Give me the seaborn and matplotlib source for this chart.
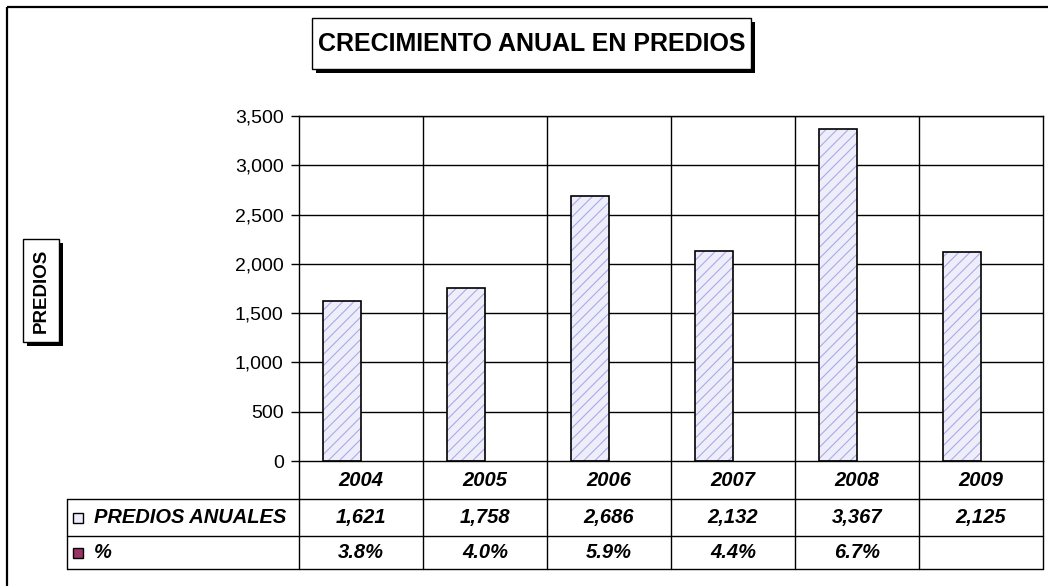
import matplotlib
matplotlib.use("Agg")
import matplotlib.pyplot as plt
import matplotlib.transforms as mtransforms
from matplotlib.patches import Rectangle
import numpy as np
import pandas as pd
import seaborn as sns

# ---- data ----
years = ["2004", "2005", "2006", "2007", "2008", "2009"]
predios = [1621, 1758, 2686, 2132, 3367, 2125]
pct = [0.038, 0.040, 0.059, 0.044, 0.067, np.nan]
series_names = ["PREDIOS ANUALES", "%"]
predios_labels = ["1,621", "1,758", "2,686", "2,132", "3,367", "2,125"]
pct_labels = ["3.8%", "4.0%", "5.9%", "4.4%", "6.7%", ""]
yticks = [0, 500, 1000, 1500, 2000, 2500, 3000, 3500]
title = "CRECIMIENTO ANUAL EN PREDIOS"
ylabel = "PREDIOS"

sns.set_theme(style="white")
plt.rcParams["font.family"] = ["Liberation Sans", "DejaVu Sans"]
plt.rcParams["text.color"] = "black"
plt.rcParams["axes.labelcolor"] = "black"
plt.rcParams["ytick.color"] = "black"
plt.rcParams["xtick.color"] = "black"
plt.rcParams["hatch.linewidth"] = 0.8

df = pd.DataFrame({
    "year": years * 2,
    "serie": [series_names[0]] * len(years) + [series_names[1]] * len(years),
    "valor": predios + pct,
})

W, H = 1048, 586
fig = plt.figure(figsize=(W / 100, H / 100), dpi=100)
fig.patch.set_facecolor("white")

# background overlay in pixel coords
bg = fig.add_axes([0, 0, 1, 1], zorder=0)
bg.set_xlim(0, W)
bg.set_ylim(H, 0)
bg.axis("off")
# outer border (only top/left visible)
bg.add_patch(Rectangle((7, 7), W + 20, H + 20, fill=False, ec="black", lw=1.6))

# title box with shadow
bg.add_patch(Rectangle((316, 22), 439, 51, fc="black", ec="black", lw=0))
bg.add_patch(Rectangle((312, 18), 439, 51, fc="white", ec="black", lw=1))
bg.text(531.5, 44, title, ha="center", va="center", fontsize=18, fontweight="bold")

# y-label box with shadow
bg.add_patch(Rectangle((27, 243), 36, 103, fc="black", ec="black", lw=0))
bg.add_patch(Rectangle((23, 239), 36, 103, fc="white", ec="black", lw=1))
bg.text(41, 290.5, ylabel, ha="center", va="center", rotation=90, fontsize=13.5,
        fontweight="bold")

# main axes
L, R, T, B = 299, 1043, 116, 461
ax = fig.add_axes([L / W, 1 - B / H, (R - L) / W, (B - T) / H], zorder=1)
ax.set_facecolor("white")

hatch_col = "#aaaae6"
sns.barplot(data=df, x="year", y="valor", hue="serie", order=years,
            hue_order=series_names,
            palette={series_names[0]: "#eeeefb", series_names[1]: "#993366"},
            width=0.62, legend=False, ax=ax, errorbar=None, saturation=1)

for p in list(ax.patches):
    if p.get_facecolor()[0] > 0.8:
        p.set_hatch("///")
        p.set_edgecolor(hatch_col)
        p.set_linewidth(0)
        ax.add_patch(Rectangle((p.get_x(), p.get_y()), p.get_width(), p.get_height(),
                               fill=False, ec="black", lw=1.2, zorder=3))

ax.set_xlim(-0.5, len(years) - 0.5)
ax.set_ylim(0, 3500)
ax.set_yticks(yticks)
ax.set_yticklabels([f"{v:,}" for v in yticks], fontsize=14)
ax.set_xticks([])
ax.set_xlabel("")
ax.set_ylabel("")
ax.tick_params(axis="y", length=6, width=1, color="black", left=True, pad=5,
               labelcolor="black")
ax.grid(False)
for v in yticks[1:]:
    ax.axhline(v, color="black", lw=1, zorder=0.5)
for i in range(len(years) - 1):
    ax.axvline(i + 0.5, color="black", lw=1, zorder=0.5)
for s in ax.spines.values():
    s.set_color("black")
    s.set_linewidth(1)
    s.set_visible(True)

# data table under the axes (data x, axes y)
tr = mtransforms.blended_transform_factory(ax.transData, ax.transAxes)
ah = B - T
rows = [0, -(499 - B) / ah, -(536 - B) / ah, -(569 - B) / ah]
xl = -0.5 - (L - 67) / ((R - L) / len(years))
xr = len(years) - 0.5
lk = dict(color="black", lw=1, clip_on=False, transform=tr)
ax.plot([xl, xr], [rows[1]] * 2, **lk)
ax.plot([xl, xr], [rows[2]] * 2, **lk)
ax.plot([xl, xr], [rows[3]] * 2, **lk)
ax.plot([xl, xl], [rows[1], rows[3]], **lk)
for i in range(len(years) + 1):
    ax.plot([i - 0.5, i - 0.5], [rows[0], rows[3]], **lk)

tk = dict(ha="center", va="center", fontsize=14.5, fontweight="bold",
          style="italic", transform=tr, clip_on=False)
for i, yr in enumerate(years):
    ax.text(i, (rows[0] + rows[1]) / 2, yr, **tk)
    ax.text(i, (rows[1] + rows[2]) / 2, predios_labels[i], **tk)
    ax.text(i, (rows[2] + rows[3]) / 2, pct_labels[i], **tk)

# legend keys in the label column
px = 1 / ((R - L) / len(years))
kx = xl + 6 * px
ks = 10 * px
kh = 10 / ah
ax.add_patch(Rectangle((kx, (rows[1] + rows[2]) / 2 - kh / 2), ks, kh,
                       fc="#eeeefb", ec="black", lw=1, transform=tr, clip_on=False))
ax.add_patch(Rectangle((kx, (rows[2] + rows[3]) / 2 - kh / 2), ks, kh,
                       fc="#993366", ec="black", lw=1, transform=tr, clip_on=False))
lt = dict(ha="left", va="center", fontsize=14.5, fontweight="bold", style="italic",
          transform=tr, clip_on=False)
ax.text(kx + 21 * px, (rows[1] + rows[2]) / 2, series_names[0], **lt)
ax.text(kx + 21 * px, (rows[2] + rows[3]) / 2, series_names[1], **lt)

fig.savefig("out.png", dpi=100, facecolor="white")
